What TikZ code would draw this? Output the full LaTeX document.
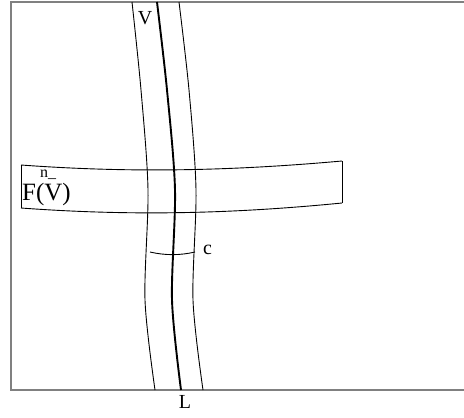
\documentclass[tikz,border=0pt]{standalone}
\usepackage{fontspec}
\setmainfont{Liberation Serif}
\begin{document}
\begin{tikzpicture}[x=1bp,y=-1bp,
  frame/.style={draw=gray,line width=1.6bp},
  thin/.style={draw=black,line width=0.9bp},
  thick/.style={draw=black,line width=1.9bp},
  lbl/.style={inner sep=0pt,font=\fontsize{20}{22}\selectfont}]
\useasboundingbox (0,0) rectangle (464,417);
% frame
\coordinate (tr) at (465,2);
\coordinate (tl) at (11,2);
\coordinate (bl) at (11,390);
\coordinate (br) at (465,390);
\draw[frame] (tr) -- (tl) -- (bl) -- (br);
% band
\coordinate (b1) at (21,165);
\coordinate (b2) at (342,161);
\coordinate (b3) at (342,203);
\coordinate (b4) at (21,208);
\draw[thin] (b1) .. controls (130,173) and (230,171) .. (b2);
\draw[thin] (b4) .. controls (130,216) and (230,214) .. (b3);
\draw[thin] (b1) -- (b4);
\draw[thin] (b2) -- (b3);
% curves
\draw[thin] plot[smooth] coordinates {(132,2) (141,90) (148,190) (145,300) (155,390)};
\draw[thick] plot[smooth] coordinates {(157,2) (167,90) (175,190) (172,300) (181,390)};
\draw[thin] plot[smooth] coordinates {(179,2) (189,90) (196,190) (193,300) (203,390)};
% arc c
\coordinate (ca) at (150,252);
\coordinate (cb) at (195,252);
\draw[thin] (ca) .. controls (165,255.5) and (180,255.5) .. (cb);
% labels
\node[lbl] (v) at (145,18) {V};
\node[lbl] (l) at (185,402) {L};
\node[lbl,anchor=west] (c) at (203,250) {c};
\node[inner sep=0pt,anchor=base west,font=\fontsize{25}{26}\selectfont] (fv) at (22,200) {F(V)};
\node[inner sep=0pt,anchor=base west,font=\fontsize{16}{16}\selectfont] (fn) at (40,177) {n\_};
\end{tikzpicture}
\end{document}
